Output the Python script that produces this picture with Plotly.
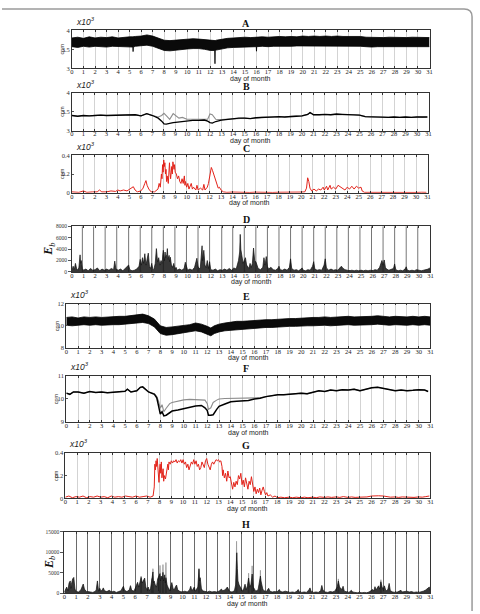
import plotly.graph_objects as go

# ---------------- DATA ----------------
days_ticks = list(range(0, 32))

# Panel A: envelope of the dense noisy band (x10^3 cpm)
a_days  = [0,0.5,1,1.5,2,2.5,3,3.5,4,4.5,5,5.28,5.3,5.32,5.5,6,6.5,7,7.5,8,8.5,9,9.5,10,10.5,11,11.5,12,12.38,12.4,12.42,12.5,13,13.5,14,14.5,15,15.5,15.98,16.0,16.02,16.5,17,17.5,18,18.5,19,19.5,20,20.5,21,21.5,22,22.5,23,23.5,24,24.5,25,25.5,26,26.5,27,27.5,28,28.5,29,29.5,30,30.5,31]
a_upper = [3.80,3.82,3.79,3.83,3.80,3.82,3.81,3.83,3.80,3.82,3.83,3.83,3.83,3.83,3.84,3.85,3.88,3.85,3.80,3.74,3.73,3.74,3.76,3.77,3.78,3.77,3.76,3.73,3.73,3.73,3.73,3.74,3.77,3.79,3.80,3.81,3.82,3.81,3.82,3.82,3.82,3.83,3.82,3.83,3.84,3.83,3.84,3.83,3.85,3.84,3.85,3.84,3.85,3.84,3.85,3.84,3.84,3.83,3.84,3.82,3.81,3.82,3.81,3.82,3.81,3.82,3.81,3.82,3.81,3.82,3.81]
a_lower = [3.57,3.55,3.58,3.56,3.58,3.57,3.56,3.58,3.57,3.57,3.56,3.56,3.44,3.56,3.58,3.59,3.61,3.58,3.52,3.47,3.46,3.48,3.50,3.51,3.52,3.52,3.50,3.47,3.47,3.12,3.47,3.48,3.52,3.54,3.55,3.56,3.56,3.57,3.57,3.45,3.57,3.58,3.57,3.58,3.58,3.57,3.58,3.59,3.59,3.60,3.59,3.60,3.60,3.59,3.60,3.60,3.59,3.59,3.58,3.57,3.56,3.57,3.57,3.56,3.57,3.56,3.57,3.56,3.57,3.56,3.57]

# Panel B: two smoothed series (x10^3 cpm)
b_days  = [0,0.5,1,1.5,2,2.5,3,3.5,4,4.5,5,5.5,6,6.5,7,7.5,7.8,8,8.2,8.5,8.8,9,9.3,9.6,10,10.5,11,11.5,11.8,12,12.2,12.5,13,13.5,14,14.5,15,15.5,16,16.5,17,17.5,18,18.5,19,19.5,20,20.5,20.7,21,21.5,22,22.5,23,23.5,24,24.5,25,25.5,26,26.5,27,27.5,28,28.5,29,29.5,30,30.5,30.9]
b_black = [3.40,3.38,3.40,3.39,3.40,3.41,3.40,3.40,3.41,3.40,3.41,3.42,3.39,3.45,3.40,3.33,3.25,3.18,3.17,3.20,3.21,3.22,3.23,3.25,3.26,3.27,3.27,3.28,3.25,3.21,3.20,3.24,3.28,3.30,3.32,3.33,3.33,3.32,3.34,3.35,3.35,3.35,3.37,3.36,3.38,3.38,3.39,3.43,3.48,3.42,3.42,3.43,3.42,3.44,3.43,3.42,3.42,3.41,3.37,3.36,3.37,3.36,3.35,3.36,3.35,3.36,3.35,3.36,3.35,3.36]
b_gray  = [3.40,3.38,3.40,3.39,3.40,3.41,3.40,3.40,3.41,3.40,3.41,3.42,3.39,3.45,3.40,3.36,3.40,3.46,3.40,3.30,3.45,3.40,3.33,3.35,3.30,3.30,3.29,3.30,3.30,3.44,3.42,3.30,3.29,3.30,3.32,3.33,3.33,3.32,3.34,3.35,3.35,3.35,3.37,3.36,3.38,3.38,3.39,3.43,3.48,3.42,3.42,3.43,3.42,3.44,3.43,3.42,3.42,3.41,3.37,3.36,3.37,3.36,3.35,3.36,3.35,3.36,3.35,3.36,3.35,3.36]

# Panel C: red series (x10^3 cpm)
c_points = [(0.0,0.01),(0.2,0.01),(0.6,0.005),(1.0,0.02),(1.3,0.005),(1.8,0.01),(2.2,0.01),(2.4,0.03),(2.6,0.01),(3.0,0.01),(3.4,0.02),(3.8,0.015),(4.0,0.03),(4.2,0.02),(4.5,0.03),(4.8,0.02),(5.0,0.04),(5.2,0.05),(5.35,0.065),(5.5,0.03),(5.7,0.01),(6.0,0.02),(6.2,0.05),(6.35,0.1),(6.45,0.13),(6.55,0.08),(6.7,0.04),(6.9,0.01),(7.2,0.01),(7.5,0.04),(7.6,0.1),(7.7,0.06),(7.8,0.2),(7.85,0.15),(7.9,0.3),(7.95,0.22),(8.0,0.35),(8.05,0.28),(8.1,0.32),(8.15,0.2),(8.2,0.25),(8.25,0.12),(8.3,0.18),(8.4,0.1),(8.45,0.2),(8.5,0.32),(8.55,0.22),(8.6,0.15),(8.7,0.28),(8.75,0.2),(8.8,0.33),(8.85,0.3),(8.9,0.25),(8.95,0.3),(9.0,0.22),(9.1,0.2),(9.2,0.15),(9.3,0.18),(9.4,0.12),(9.5,0.1),(9.6,0.15),(9.7,0.1),(9.8,0.18),(9.85,0.08),(9.9,0.12),(10.0,0.06),(10.1,0.1),(10.2,0.04),(10.3,0.07),(10.4,0.1),(10.5,0.04),(10.6,0.06),(10.8,0.03),(10.9,0.08),(11.0,0.03),(11.2,0.05),(11.4,0.03),(11.5,0.09),(11.6,0.03),(11.8,0.06),(11.9,0.1),(12.0,0.18),(12.1,0.22),(12.15,0.27),(12.25,0.24),(12.35,0.2),(12.45,0.18),(12.55,0.12),(12.65,0.08),(12.75,0.05),(12.85,0.06),(13.0,0.03),(13.2,0.01),(13.5,0.005),(14.0,0.008),(14.5,0.004),(15.0,0.006),(15.5,0.004),(16.0,0.007),(16.5,0.004),(17.0,0.006),(17.5,0.004),(18.0,0.006),(18.5,0.005),(19.0,0.008),(19.5,0.005),(20.0,0.008),(20.3,0.01),(20.45,0.05),(20.55,0.16),(20.65,0.12),(20.75,0.05),(20.9,0.02),(21.1,0.04),(21.3,0.02),(21.5,0.04),(21.7,0.03),(21.9,0.06),(22.0,0.03),(22.2,0.07),(22.3,0.03),(22.5,0.08),(22.6,0.04),(22.8,0.06),(23.0,0.04),(23.2,0.08),(23.4,0.06),(23.6,0.05),(23.8,0.03),(24.0,0.06),(24.2,0.04),(24.4,0.07),(24.6,0.04),(24.8,0.07),(25.0,0.05),(25.2,0.06),(25.3,0.02),(25.5,0.005),(26.0,0.004),(26.5,0.006),(27.0,0.004),(27.5,0.005),(28.0,0.004),(28.5,0.006),(29.0,0.004),(29.5,0.005),(30.0,0.004),(30.5,0.006),(30.9,0.005)]

# Panel D: Eb series
d_points = [(0.0,300),(0.1,1000),(0.2,400),(0.3,1500),(0.4,600),(0.5,300),(0.6,800),(0.7,3000),(0.75,1500),(0.8,2000),(0.9,600),(1.0,300),(1.2,500),(1.4,200),(1.6,600),(1.8,300),(2.0,400),(2.2,700),(2.4,200),(2.6,500),(2.8,300),(3.0,500),(3.2,300),(3.4,600),(3.6,400),(3.7,1900),(3.8,500),(4.0,300),(4.2,500),(4.4,200),(4.6,600),(4.8,1000),(4.9,1200),(5.0,400),(5.2,200),(5.4,300),(5.6,500),(5.8,1000),(5.9,2200),(6.0,1200),(6.1,2500),(6.2,1500),(6.3,3200),(6.4,1200),(6.5,2000),(6.6,3300),(6.7,1000),(6.8,600),(6.9,1500),(7.0,400),(7.1,600),(7.2,1500),(7.3,4100),(7.4,1800),(7.5,2500),(7.6,1200),(7.7,2000),(7.8,1500),(7.85,3000),(7.9,3800),(8.0,2000),(8.05,3500),(8.1,2500),(8.2,3000),(8.25,4100),(8.3,2200),(8.4,2900),(8.45,1800),(8.5,2600),(8.6,1200),(8.7,800),(8.8,1500),(8.9,500),(9.0,800),(9.1,300),(9.3,500),(9.5,300),(9.7,600),(9.8,1700),(9.9,800),(10.0,300),(10.2,500),(10.4,300),(10.6,800),(10.8,2400),(10.9,1000),(11.0,500),(11.1,800),(11.25,4600),(11.3,2000),(11.4,3800),(11.5,1200),(11.6,800),(11.7,2000),(11.8,600),(11.9,1800),(12.0,400),(12.2,300),(12.4,500),(12.6,200),(12.8,400),(13.0,300),(13.2,500),(13.4,300),(13.6,600),(13.8,300),(14.0,700),(14.2,500),(14.3,1200),(14.4,2000),(14.5,3500),(14.55,6600),(14.6,4000),(14.7,2500),(14.8,1500),(14.9,2000),(15.0,2500),(15.1,1200),(15.2,800),(15.3,600),(15.4,1500),(15.5,800),(15.6,1500),(15.7,4200),(15.8,2000),(15.9,1800),(16.0,1200),(16.1,600),(16.3,400),(16.5,800),(16.6,2500),(16.7,1200),(16.8,2700),(16.9,1000),(17.0,500),(17.2,800),(17.4,400),(17.6,300),(17.8,600),(17.9,1000),(18.0,400),(18.2,300),(18.4,500),(18.6,300),(18.8,800),(18.9,2300),(19.0,600),(19.2,300),(19.4,400),(19.6,200),(19.8,500),(19.9,700),(20.0,300),(20.2,200),(20.4,400),(20.6,300),(20.8,1000),(20.9,1800),(21.0,500),(21.2,300),(21.4,400),(21.6,300),(21.8,1200),(21.9,2300),(22.0,700),(22.2,300),(22.4,500),(22.6,300),(22.8,400),(23.0,300),(23.2,800),(23.3,1000),(23.4,700),(23.6,400),(23.8,300),(24.0,200),(24.2,300),(24.4,200),(24.6,300),(24.8,200),(25.0,300),(25.2,200),(25.4,300),(25.6,200),(25.8,300),(26.0,200),(26.2,400),(26.4,300),(26.6,800),(26.7,1500),(26.8,2000),(26.9,1200),(27.0,2100),(27.1,800),(27.2,500),(27.4,300),(27.6,400),(27.8,600),(27.9,1400),(28.0,400),(28.2,200),(28.4,300),(28.6,200),(28.8,500),(28.9,900),(29.0,300),(29.2,200),(29.4,300),(29.6,200),(29.8,400),(30.0,300),(30.2,200),(30.4,300),(30.6,400),(30.8,500),(30.9,700),(31.0,300)]
d_day_marks = [0.9,1.87,2.87,3.87,4.9,5.9,6.9,7.9,8.9,9.9,10.9,11.9,12.95,13.9,14.9,15.9,16.9,17.9,18.9,19.9,20.9,21.9,22.9,23.9,24.9,25.9,26.9,27.9,28.9,29.9]

# Panel E: envelope of the dense noisy band (x10^3 cpm)
e_days  = [0,0.5,1,1.5,2,2.5,3,3.5,4,4.5,5,5.5,6,6.5,7,7.5,8,8.5,9,9.5,10,10.5,11,11.5,12,12.3,12.6,13,13.5,14,14.5,15,15.5,16,16.5,17,17.5,18,18.5,19,19.5,20,20.5,21,21.5,22,22.5,23,23.5,24,24.5,25,25.5,26,26.5,27,27.5,28,28.5,29,29.5,30,30.5,31]
e_upper = [10.75,10.8,10.7,10.8,10.75,10.8,10.75,10.8,10.8,10.85,10.85,10.9,10.95,11.05,10.9,10.6,10.0,9.85,9.9,9.95,10.05,10.1,10.25,10.15,9.95,9.8,10.0,10.15,10.25,10.35,10.4,10.4,10.45,10.5,10.5,10.55,10.55,10.6,10.6,10.65,10.65,10.7,10.7,10.75,10.75,10.8,10.75,10.8,10.8,10.85,10.8,10.8,10.8,10.85,10.9,10.85,10.8,10.85,10.8,10.8,10.85,10.8,10.85,10.8]
e_lower = [10.05,10.0,10.05,10.1,10.05,10.1,10.05,10.1,10.1,10.1,10.15,10.15,10.2,10.3,10.2,9.9,9.3,9.15,9.2,9.3,9.4,9.45,9.55,9.45,9.2,9.1,9.3,9.45,9.55,9.6,9.65,9.7,9.75,9.75,9.8,9.85,9.85,9.9,9.9,9.95,9.95,10.0,10.0,10.0,10.05,10.05,10.0,10.05,10.05,10.1,10.05,10.05,10.05,10.1,10.15,10.1,10.05,10.1,10.05,10.05,10.1,10.05,10.1,10.05]

# Panel F: two smoothed series (x10^3 cpm)
f_days  = [0,0.3,0.6,1,1.5,2,2.5,3,3.5,4,4.5,5,5.2,5.5,6,6.3,6.5,7,7.5,7.7,7.85,8.0,8.15,8.3,8.5,8.8,9,9.5,10,10.5,11,11.5,11.8,12,12.1,12.3,12.5,12.8,13,13.5,14,14.5,15,15.5,16,16.5,17,17.5,18,18.5,19,19.5,20,20.5,21,21.5,22,22.5,23,23.5,24,24.5,25,25.5,26,26.5,27,27.5,28,28.5,29,29.5,30,30.5,30.8]
f_black = [10.25,10.2,10.3,10.3,10.25,10.32,10.28,10.3,10.27,10.3,10.3,10.33,10.42,10.3,10.35,10.5,10.52,10.3,10.2,10.05,9.7,9.35,9.45,9.27,9.3,9.42,9.48,9.52,9.58,9.62,9.7,9.72,9.62,9.5,9.3,9.3,9.32,9.55,9.68,9.78,9.88,9.9,9.92,9.93,10.0,10.03,10.1,10.15,10.18,10.18,10.2,10.22,10.25,10.22,10.3,10.35,10.32,10.38,10.35,10.4,10.38,10.42,10.35,10.42,10.48,10.5,10.45,10.42,10.35,10.38,10.35,10.37,10.4,10.38,10.32]
f_gray  = [10.25,10.2,10.3,10.3,10.25,10.32,10.28,10.3,10.27,10.3,10.3,10.33,10.42,10.3,10.35,10.5,10.52,10.3,10.22,10.1,9.9,9.6,9.75,9.45,9.6,9.8,9.85,9.92,9.96,9.98,9.98,9.98,9.95,9.8,9.55,9.62,9.85,9.95,10.0,10.02,10.03,10.03,10.03,10.03,10.05,10.05,10.1,10.15,10.18,10.18,10.2,10.22,10.25,10.22,10.3,10.35,10.32,10.38,10.35,10.4,10.38,10.42,10.35,10.42,10.48,10.5,10.45,10.42,10.35,10.38,10.35,10.37,10.4,10.38,10.32]

# Panel G: red series (x10^3 cpm)
g_points = [(0,0.01),(0.3,0.02),(0.6,0.005),(0.9,0.015),(1.2,0.01),(1.5,0.02),(1.8,0.005),(2.1,0.015),(2.4,0.01),(2.7,0.02),(3.0,0.01),(3.3,0.015),(3.6,0.005),(3.9,0.02),(4.2,0.01),(4.5,0.015),(4.8,0.01),(5.1,0.02),(5.4,0.015),(5.7,0.01),(6.0,0.02),(6.3,0.01),(6.6,0.015),(6.9,0.02),(7.2,0.01),(7.45,0.02),(7.55,0.1),(7.6,0.3),(7.65,0.25),(7.7,0.33),(7.75,0.28),(7.8,0.35),(7.85,0.3),(7.9,0.2),(7.95,0.14),(8.0,0.25),(8.05,0.3),(8.1,0.22),(8.15,0.32),(8.2,0.18),(8.3,0.26),(8.35,0.15),(8.4,0.2),(8.5,0.17),(8.6,0.26),(8.7,0.3),(8.75,0.25),(8.8,0.32),(8.9,0.3),(9.0,0.33),(9.1,0.31),(9.2,0.33),(9.3,0.32),(9.4,0.34),(9.5,0.31),(9.6,0.33),(9.7,0.32),(9.8,0.34),(9.9,0.31),(10.0,0.34),(10.1,0.3),(10.2,0.32),(10.3,0.27),(10.4,0.3),(10.5,0.25),(10.6,0.28),(10.7,0.32),(10.8,0.3),(10.9,0.34),(11.0,0.3),(11.1,0.33),(11.2,0.28),(11.3,0.3),(11.4,0.25),(11.5,0.27),(11.6,0.32),(11.7,0.3),(11.8,0.27),(11.9,0.33),(12.0,0.35),(12.1,0.3),(12.2,0.28),(12.3,0.25),(12.4,0.3),(12.5,0.32),(12.6,0.3),(12.7,0.33),(12.8,0.34),(12.9,0.33),(13.0,0.34),(13.1,0.32),(13.2,0.33),(13.3,0.28),(13.35,0.2),(13.4,0.25),(13.5,0.18),(13.6,0.22),(13.7,0.15),(13.8,0.24),(13.9,0.18),(14.0,0.19),(14.1,0.12),(14.2,0.08),(14.3,0.14),(14.4,0.1),(14.5,0.15),(14.6,0.12),(14.7,0.2),(14.8,0.17),(14.9,0.22),(15.0,0.12),(15.1,0.16),(15.2,0.1),(15.3,0.18),(15.4,0.14),(15.5,0.08),(15.6,0.15),(15.7,0.12),(15.8,0.19),(15.9,0.1),(16.0,0.06),(16.1,0.1),(16.2,0.04),(16.3,0.08),(16.4,0.05),(16.5,0.09),(16.6,0.03),(16.7,0.07),(16.8,0.1),(16.9,0.06),(17.0,0.03),(17.1,0.05),(17.2,0.02),(17.4,0.03),(17.6,0.01),(17.8,0.02),(18.0,0.005),(18.3,0.01),(18.6,0.005),(19.0,0.01),(19.3,0.005),(19.6,0.01),(20.0,0.005),(20.3,0.01),(20.6,0.005),(21.0,0.01),(21.3,0.005),(21.6,0.012),(22.0,0.008),(22.3,0.012),(22.6,0.008),(23.0,0.012),(23.3,0.008),(23.6,0.015),(24.0,0.008),(24.3,0.012),(24.6,0.008),(25.0,0.01),(25.3,0.008),(25.6,0.012),(26.0,0.02),(26.3,0.018),(26.6,0.022),(27.0,0.02),(27.3,0.015),(27.6,0.01),(28.0,0.012),(28.3,0.008),(28.6,0.012),(29.0,0.01),(29.3,0.012),(29.6,0.008),(30.0,0.012),(30.3,0.01),(30.6,0.015),(30.9,0.02)]

# Panel H: Eb series (black) and higher gray peaks
h_points = [(0.0,300),(0.1,800),(0.2,1500),(0.3,600),(0.4,2500),(0.5,3000),(0.55,1200),(0.6,2200),(0.7,3500),(0.8,3870),(0.85,2000),(0.9,1000),(1.0,400),(1.2,300),(1.4,800),(1.5,1500),(1.6,2250),(1.7,1000),(1.8,600),(1.9,300),(2.0,400),(2.2,300),(2.4,200),(2.6,400),(2.7,800),(2.8,3000),(2.85,1000),(2.9,500),(3.0,1200),(3.1,500),(3.2,800),(3.3,1300),(3.4,600),(3.6,400),(3.8,700),(4.0,300),(4.2,500),(4.4,200),(4.6,400),(4.8,600),(4.9,1200),(5.0,1700),(5.1,700),(5.3,400),(5.5,800),(5.6,1850),(5.7,700),(5.9,500),(6.0,1200),(6.1,2000),(6.2,2660),(6.3,1500),(6.4,2500),(6.5,3870),(6.6,2500),(6.7,3000),(6.8,3700),(6.9,1500),(7.0,800),(7.1,1500),(7.2,600),(7.3,1200),(7.4,3000),(7.5,5200),(7.55,2500),(7.6,3000),(7.7,2000),(7.8,1500),(7.9,3500),(8.0,4000),(8.1,4800),(8.15,3000),(8.2,4200),(8.3,3500),(8.35,5100),(8.4,3000),(8.5,4500),(8.55,2500),(8.6,3800),(8.7,2000),(8.8,1000),(8.9,600),(9.0,1500),(9.1,2600),(9.2,1200),(9.3,800),(9.4,1500),(9.5,2000),(9.6,800),(9.8,400),(10.0,300),(10.2,500),(10.4,300),(10.6,800),(10.7,1700),(10.8,600),(10.9,1000),(11.0,1500),(11.1,500),(11.3,1500),(11.4,5900),(11.45,3000),(11.5,3800),(11.6,1200),(11.7,600),(11.9,400),(12.1,300),(12.3,500),(12.5,300),(12.7,400),(12.9,300),(13.1,500),(13.3,1000),(13.4,600),(13.6,800),(13.8,1500),(13.9,700),(14.0,400),(14.2,300),(14.4,600),(14.5,2000),(14.55,5000),(14.6,9900),(14.65,6000),(14.7,3000),(14.8,2000),(14.9,1500),(15.0,800),(15.1,500),(15.2,1200),(15.3,2200),(15.4,800),(15.5,1800),(15.6,3700),(15.7,1500),(15.8,2200),(15.9,4700),(16.0,1500),(16.1,800),(16.2,500),(16.4,800),(16.5,2500),(16.6,4200),(16.65,3000),(16.7,2000),(16.8,1000),(16.9,600),(17.1,400),(17.3,1200),(17.4,500),(17.6,300),(17.8,400),(18.0,300),(18.2,900),(18.3,400),(18.5,300),(18.7,500),(18.9,300),(19.1,200),(19.3,300),(19.5,200),(19.7,500),(19.8,900),(19.9,300),(20.1,200),(20.3,300),(20.5,200),(20.7,800),(20.8,1300),(20.9,400),(21.1,200),(21.3,300),(21.5,200),(21.7,600),(21.8,1900),(21.9,700),(22.1,300),(22.3,200),(22.5,400),(22.7,300),(22.9,500),(23.0,1000),(23.1,1500),(23.2,3000),(23.3,1500),(23.5,900),(23.6,1700),(23.7,500),(23.9,300),(24.1,200),(24.3,700),(24.4,300),(24.6,200),(24.8,100),(25.0,200),(25.2,100),(25.4,200),(25.6,100),(25.8,300),(26.0,600),(26.1,900),(26.2,600),(26.3,1600),(26.4,800),(26.5,1200),(26.6,1800),(26.7,1000),(26.8,2800),(26.9,1500),(27.0,1000),(27.1,1800),(27.2,800),(27.3,600),(27.4,1000),(27.5,2400),(27.6,600),(27.8,300),(28.0,200),(28.2,300),(28.4,600),(28.5,700),(28.6,300),(28.8,400),(29.0,500),(29.2,300),(29.4,400),(29.6,200),(29.8,300),(30.0,200),(30.2,300),(30.4,500),(30.6,800),(30.8,1200),(30.9,1500),(31.0,500)]
h_gray_peaks = [(6.5,4200),(7.4,3600),(7.5,6000),(8.1,6800),(8.35,7000),(8.6,7500),(11.4,6100),(14.58,12700),(15.6,4900),(15.9,6700),(16.6,5600),(23.2,3500),(26.8,3300)]

# ---------------- FIGURE ----------------
W, H = 480, 614
def fx(p): return p / W
def fy(p): return 1 - p / H

SERIF = "Liberation Serif, Times New Roman, serif"
SANS = "Liberation Sans, Arial, sans-serif"
RED = "#e2231a"

# panel geometry in pixels: left, right, top, bottom
geo = {
    "A": (70.7, 432, 26.7, 65),
    "B": (70.7, 431, 90, 128),
    "C": (70.7, 430, 153, 191),
    "D": (70.7, 433, 225, 271),
    "E": (65, 433, 303, 348),
    "F": (65, 433, 376, 423),
    "G": (64, 433, 454, 500),
    "H": (63, 433, 534, 596),
}
yspec = {
    "A": ([3, 4], [3, 3.5, 4], ["3", "3.5", "4"]),
    "B": ([3, 4], [3, 3.5, 4], ["3", "3.5", "4"]),
    "C": ([0, 0.4], [0, 0.2, 0.4], ["0", "0.2", "0.4"]),
    "D": ([0, 8000], [0, 2000, 4000, 6000, 8000], ["0", "2000", "4000", "6000", "8000"]),
    "E": ([8, 12], [8, 10, 12], ["8", "10", "12"]),
    "F": ([9, 11], [9, 10, 11], ["9", "10", "11"]),
    "G": ([0, 0.4], [0, 0.2, 0.4], ["0", "0.2", "0.4"]),
    "H": ([0, 15000], [0, 5000, 10000, 15000], ["0", "5000", "10000", "15000"]),
}

fig = go.Figure()
names = list(geo.keys())
layout = {}
annotations = []
shapes = []
for i, n in enumerate(names, start=1):
    l, r, t, b = geo[n]
    xa = "xaxis" if i == 1 else f"xaxis{i}"
    ya = "yaxis" if i == 1 else f"yaxis{i}"
    xr = "x" if i == 1 else f"x{i}"
    yr = "y" if i == 1 else f"y{i}"
    grid_col = "#d3d3d3"
    show_grid = True
    if n == "D":
        show_grid = False
    if n == "H":
        grid_col = "#6a6a6a"
    layout[xa] = dict(domain=[fx(l), fx(r)], anchor=yr, range=[0, 31],
                      tickvals=days_ticks, ticktext=[str(d) for d in days_ticks],
                      tickfont=dict(family=SERIF, size=6.5, color="#222"),
                      showline=True, linecolor="#333", linewidth=0.8, mirror="ticks",
                      ticks="inside", ticklen=2, tickcolor="#333",
                      ticklabelstandoff=-3,
                      showgrid=show_grid, gridcolor=grid_col, gridwidth=0.8,
                      zeroline=False, fixedrange=True)
    yr_range, yv, yt = yspec[n]
    layout[ya] = dict(domain=[fy(b), fy(t)], anchor=xr, range=yr_range,
                      tickvals=yv, ticktext=yt,
                      tickfont=dict(family=SERIF, size=5.5 if n in ("D", "H") else 6.5, color="#333"),
                      showline=True, linecolor="#333", linewidth=0.8, mirror=True,
                      ticks="outside" if n in ("D", "H") else "inside",
                      ticklen=3 if n in ("D", "H") else 2, tickcolor="#555",
                      showgrid=False, zeroline=False, fixedrange=True)
    # panel title
    annotations.append(dict(text=f"<b>{n}</b>", x=fx(247), y=fy(t - 7), xref="paper", yref="paper",
                            showarrow=False, font=dict(family=SERIF, size=10, color="#111"),
                            xanchor="center", yanchor="middle"))
    # x label
    annotations.append(dict(text="day of month", x=fx((l + r) / 2), y=fy(b + 10.5), xref="paper", yref="paper",
                            showarrow=False, font=dict(family=SANS, size=7, color="#222"),
                            xanchor="center", yanchor="middle"))
    if n in ("D", "H"):
        annotations.append(dict(text="<b><i>E</i></b><sub><i>b</i></sub>", x=fx(48), y=fy((t + b) / 2),
                                xref="paper", yref="paper", showarrow=False, textangle=-90,
                                font=dict(family=SERIF, size=12, color="#111"),
                                xanchor="center", yanchor="middle"))
    else:
        annotations.append(dict(text="cpm", x=fx(l - 10), y=fy((t + b) / 2), xref="paper", yref="paper",
                                showarrow=False, textangle=-90, font=dict(family=SANS, size=5.5, color="#333"),
                                xanchor="center", yanchor="middle"))
        annotations.append(dict(text="<i>x10</i><sup><i>3</i></sup>", x=fx(l + 2), y=fy(t - 9),
                                xref="paper", yref="paper", showarrow=False,
                                font=dict(family=SANS, size=8.5, color="#222"),
                                xanchor="left", yanchor="middle"))

# dark day markers in panel D
for xm in d_day_marks:
    shapes.append(dict(type="line", xref="x4", yref="y4 domain", x0=xm, x1=xm, y0=0, y1=1,
                       line=dict(color="#666", width=0.9), layer="below"))

# outer rounded frame (top and right edges)
px0, py0, pxr, rad = 0, 5, 475, 8
path = (f"M {fx(px0)},{fy(py0)} L {fx(pxr - rad)},{fy(py0)} "
        f"Q {fx(pxr)},{fy(py0)} {fx(pxr)},{fy(py0 + rad)} L {fx(pxr)},{fy(H)}")
shapes.append(dict(type="path", xref="paper", yref="paper", path=path,
                   line=dict(color="#9a9a9a", width=1.5)))

# ---- traces ----
# A
fig.add_trace(go.Scatter(x=a_days, y=a_upper, mode="lines", line=dict(color="#000", width=0.8),
                         xaxis="x", yaxis="y", hoverinfo="skip"))
fig.add_trace(go.Scatter(x=a_days, y=a_lower, mode="lines", line=dict(color="#000", width=0.8),
                         fill="tonexty", fillcolor="#0a0a0a", xaxis="x", yaxis="y", hoverinfo="skip"))
# B
fig.add_trace(go.Scatter(x=b_days, y=b_gray, mode="lines", line=dict(color="#8c8c8c", width=1.1),
                         xaxis="x2", yaxis="y2"))
fig.add_trace(go.Scatter(x=b_days, y=b_black, mode="lines", line=dict(color="#000", width=1.3),
                         xaxis="x2", yaxis="y2"))
# C
c_x, c_y = zip(*c_points)
fig.add_trace(go.Scatter(x=list(c_x), y=list(c_y), mode="lines", line=dict(color=RED, width=1),
                         xaxis="x3", yaxis="y3"))
# D
d_x, d_y = zip(*d_points)
fig.add_trace(go.Scatter(x=list(d_x), y=list(d_y), mode="lines", line=dict(color="#111", width=0.7),
                         fill="tozeroy", fillcolor="rgba(20,20,20,0.85)", xaxis="x4", yaxis="y4"))
# E
fig.add_trace(go.Scatter(x=e_days, y=e_upper, mode="lines", line=dict(color="#000", width=0.8),
                         xaxis="x5", yaxis="y5", hoverinfo="skip"))
fig.add_trace(go.Scatter(x=e_days, y=e_lower, mode="lines", line=dict(color="#000", width=0.8),
                         fill="tonexty", fillcolor="#0a0a0a", xaxis="x5", yaxis="y5", hoverinfo="skip"))
# F
fig.add_trace(go.Scatter(x=f_days, y=f_gray, mode="lines", line=dict(color="#8c8c8c", width=1.1),
                         xaxis="x6", yaxis="y6"))
fig.add_trace(go.Scatter(x=f_days, y=f_black, mode="lines", line=dict(color="#000", width=1.5),
                         xaxis="x6", yaxis="y6"))
# G
g_x, g_y = zip(*g_points)
fig.add_trace(go.Scatter(x=list(g_x), y=list(g_y), mode="lines", line=dict(color=RED, width=1),
                         xaxis="x7", yaxis="y7"))
# H gray peaks (behind)
hg_x, hg_y = [], []
for xv, yv in h_gray_peaks:
    hg_x += [xv - 0.04, xv, xv + 0.04, None]
    hg_y += [0, yv, 0, None]
fig.add_trace(go.Scatter(x=hg_x, y=hg_y, mode="lines", line=dict(color="#999", width=0.8),
                         fill="toself", fillcolor="rgba(150,150,150,0.6)", xaxis="x8", yaxis="y8"))
h_x, h_y = zip(*h_points)
fig.add_trace(go.Scatter(x=list(h_x), y=list(h_y), mode="lines", line=dict(color="#111", width=0.7),
                         fill="tozeroy", fillcolor="rgba(20,20,20,0.85)", xaxis="x8", yaxis="y8"))

fig.update_layout(width=W, height=H, margin=dict(l=0, r=0, t=0, b=0),
                  paper_bgcolor="white", plot_bgcolor="white", showlegend=False,
                  annotations=annotations, shapes=shapes, **layout)

fig.write_html("out.html")
